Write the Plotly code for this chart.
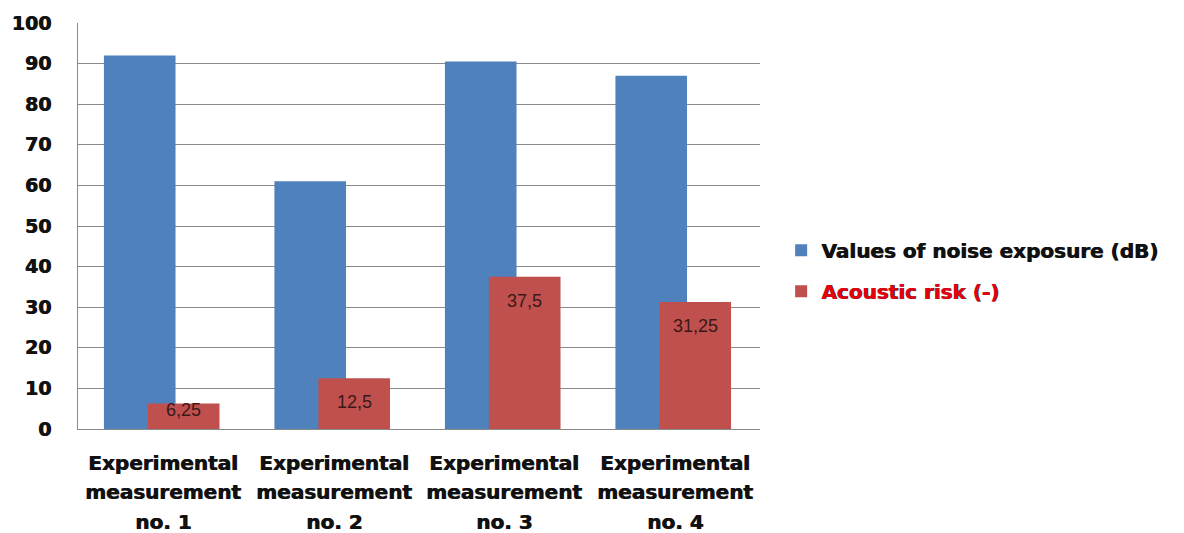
import plotly.graph_objects as go

categories = ["m1", "m2", "m3", "m4"]
label_line1 = ["Experimental"] * 4
label_line2 = ["measurement"] * 4
label_line3 = ["no. 1", "no. 2", "no. 3", "no. 4"]
noise_values = [92, 61, 90.5, 87]
risk_values = [6.25, 12.5, 37.5, 31.25]
risk_labels = ["6,25", "12,5", "37,5", "31,25"]
y_ticks = [0, 10, 20, 30, 40, 50, 60, 70, 80, 90, 100]

W, H = 1184, 533
ML, MR, MT, MB = 77, 424, 20, 104
plot_h = H - MT - MB
px_per_unit = plot_h / 100

BLUE = "#4F81BD"
RED = "#C0504D"
HEAVY = "0.8px 0px 0px #111111"

fig = go.Figure()
fig.add_trace(go.Bar(
    x=categories, y=noise_values, name="Values of noise exposure (dB)",
    marker=dict(color=BLUE, line=dict(width=0)),
    width=0.42, offset=-0.348, legendgroup="a",
))
fig.add_trace(go.Bar(
    x=categories, y=risk_values,
    name="<span style='color:#E3000F'>Acoustic risk (-)</span>",
    marker=dict(color=RED, line=dict(width=0)),
    width=0.42, offset=-0.09, legendgroup="b",
))

# data labels inside red bars (near top)
for c, v, t in zip(categories, risk_values, risk_labels):
    h = v * px_per_unit
    shift = min(24, h - 19)
    fig.add_annotation(
        x=c, y=v, xref="x", yref="y", text=t, showarrow=False,
        xshift=0.12 * (W - ML - MR) / 4, yshift=-shift, yanchor="middle",
        font=dict(family="Liberation Sans, Arial, sans-serif", size=18, color="#3a1818"),
    )

# category labels (three lines each)
for c, l1, l2, l3 in zip(categories, label_line1, label_line2, label_line3):
    for txt, dy in ((l1, -34), (l2, -63), (l3, -93)):
        fig.add_annotation(
            x=c, y=0, xref="x", yref="paper", text=txt, showarrow=False,
            yshift=dy, yanchor="middle",
            font=dict(family="DejaVu Sans, sans-serif", size=20, color="#111111",
                      weight="bold", shadow=HEAVY),
        )

fig.update_layout(
    width=W, height=H,
    margin=dict(l=ML, r=MR, t=MT, b=MB, pad=0),
    paper_bgcolor="white", plot_bgcolor="white",
    barmode="overlay",
    showlegend=True,
    legend=dict(
        x=1.031, y=0.488, xanchor="left", yanchor="top",
        font=dict(family="DejaVu Sans, sans-serif", size=20, color="#111111",
                  weight="bold", shadow=HEAVY),
        traceorder="grouped", tracegroupgap=12,
        bgcolor="rgba(0,0,0,0)",
    ),
    xaxis=dict(
        type="category", showticklabels=False, showgrid=False,
        showline=True, linecolor="#8a8a8a", linewidth=1,
        range=[-0.5, 3.5], ticks="",
    ),
    yaxis=dict(
        range=[0, 100], tickvals=y_ticks, showgrid=True, gridcolor="#8a8a8a", gridwidth=1,
        showline=True, linecolor="#8a8a8a", linewidth=1, zeroline=False,
        ticks="", ticklabelstandoff=22,
        tickfont=dict(family="DejaVu Sans, sans-serif", size=19, color="#111111",
                      weight="bold", shadow=HEAVY),
    ),
)

fig.write_html("out.html")
